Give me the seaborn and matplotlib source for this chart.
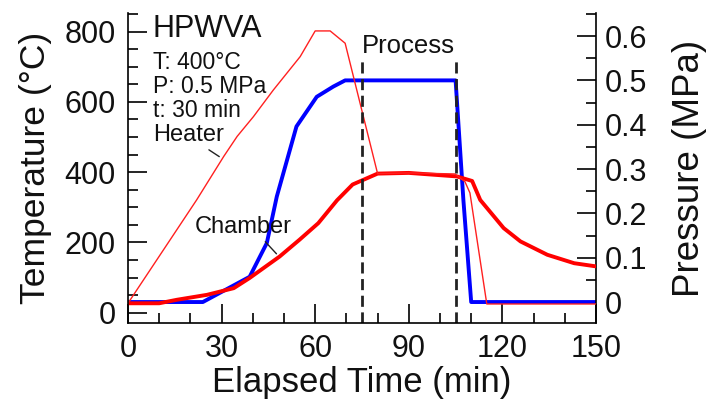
import matplotlib
matplotlib.use("Agg")
import matplotlib.pyplot as plt
import seaborn as sns
import pandas as pd
from matplotlib.ticker import MultipleLocator, FuncFormatter

# ---- data ----
heater_t = [0, 22, 30.7, 35, 40.2, 46.6, 55.2, 60, 64.8, 69.6, 80, 90, 104.8, 108, 109.6, 115, 150]
heater_T = [27, 321, 445, 502, 558, 634, 729, 802, 802, 767, 396, 398, 395, 373, 341, 25, 25]

chamber_t = [0, 10, 15.7, 25.3, 33.9, 39, 48.6, 55, 61, 67, 72, 80, 90, 105.4, 110.3, 112.9, 120.4, 125.8, 134.4, 143, 150]
chamber_T = [27, 27, 37, 51, 70, 99, 160, 208, 255, 320, 365, 396, 398, 388, 375, 321, 241, 203, 165, 141, 132]

pressure_t = [0, 24, 39, 44.5, 47.7, 54, 60.5, 65.8, 69.6, 105, 107.5, 110, 150]
pressure_P = [0, 0, 0.057, 0.133, 0.238, 0.396, 0.463, 0.486, 0.5, 0.5, 0.23, 0, 0]

process_bounds = [75, 105]
process_top = 729

info_lines = ["T: 400°C", "P: 0.5 MPa", "t: 30 min"]

sns.set_theme(style="white")
plt.rcParams['font.family'] = ['Liberation Sans', 'DejaVu Sans']
plt.rcParams['axes.unicode_minus'] = False

fig = plt.figure(figsize=(7.07, 3.99), dpi=100)
ax = fig.add_axes([0.1810, 0.1897, 0.6620, 0.7777])
ax2 = ax.twinx()

heater = pd.DataFrame({"t": heater_t, "T": heater_T})
chamber = pd.DataFrame({"t": chamber_t, "T": chamber_T})
press = pd.DataFrame({"t": pressure_t, "P": pressure_P})

sns.lineplot(data=press, x="t", y="P", ax=ax2, color="#0000ff", lw=2.8, sort=False, estimator=None)
sns.lineplot(data=chamber, x="t", y="T", ax=ax, color="#ff0000", lw=2.8, sort=False, estimator=None)
sns.lineplot(data=heater, x="t", y="T", ax=ax, color="#ff2020", lw=1.0, sort=False, estimator=None)

ax.vlines(process_bounds, ymin=-30, ymax=process_top, colors="#222222", lw=2.0,
          linestyles=(0, (4, 2)))

# put temperature axis on top
ax.set_zorder(ax2.get_zorder() + 1)
ax.patch.set_visible(False)

ax.set_xlim(0, 150)
ax.set_ylim(-30, 853)
ax2.set_ylim(-0.048, 0.652)

ax.xaxis.set_major_locator(MultipleLocator(30))
ax.xaxis.set_minor_locator(MultipleLocator(10))
ax.yaxis.set_major_locator(MultipleLocator(200))
ax.yaxis.set_minor_locator(MultipleLocator(50))
ax2.yaxis.set_major_locator(MultipleLocator(0.1))
ax2.yaxis.set_minor_locator(MultipleLocator(0.05))
ax2.yaxis.set_major_formatter(FuncFormatter(lambda v, _: f"{round(v, 2):g}"))

for a in (ax, ax2):
    a.spines['top'].set_visible(False)
    for s in a.spines.values():
        s.set_color("black")
        s.set_linewidth(1.2)
ax2.spines['left'].set_visible(False)
ax2.spines['bottom'].set_visible(False)
ax.spines['right'].set_visible(False)

ax.tick_params(axis='both', which='major', direction='in', length=14, width=1.2,
               color='black', labelsize=22, labelcolor='#111111')
ax.tick_params(axis='both', which='minor', direction='in', length=7, width=1.2, color='black')
ax.tick_params(axis='y', which='both', left=True, right=False, pad=9)
ax.tick_params(axis='x', which='both', bottom=True, top=False, pad=8)
ax2.tick_params(axis='y', which='major', direction='in', length=14, width=1.2,
                color='black', labelsize=22, labelcolor='#111111', pad=6, right=True, left=False)
ax2.tick_params(axis='y', which='minor', direction='in', length=7, width=1.2, color='black',
                right=True, left=False)

ax.set_xlabel("Elapsed Time (min)", fontsize=25, color='#111111', labelpad=1)
ax.set_ylabel("Temperature (°C)", fontsize=25.5, color='#111111', labelpad=9)
ax2.set_ylabel("Pressure (MPa)", fontsize=26.5, color='#111111', labelpad=18)

# annotations
ax.text(8.0, 808, "HPWVA", fontsize=22, color='#111111', va='center', ha='left')
for i, s in enumerate(info_lines):
    ax.text(8.0, 711 - i * 68, s, fontsize=16.5, color='#111111', va='center', ha='left')
ax.text(8.0, 506, "Heater", fontsize=17, color='#111111', va='center', ha='left')
ax.annotate("", xy=(30.0, 440), xytext=(25.2, 468),
            arrowprops=dict(arrowstyle='-', color='#222222', lw=1.0))
ax.text(21.5, 243, "Chamber", fontsize=17, color='#111111', va='center', ha='left')
ax.annotate("", xy=(48.2, 162), xytext=(43.4, 208),
            arrowprops=dict(arrowstyle='-', color='#222222', lw=1.0))
ax.text(75.0, 760, "Process", fontsize=18.5, color='#111111', va='center', ha='left')

fig.savefig("out.png", dpi=100)
